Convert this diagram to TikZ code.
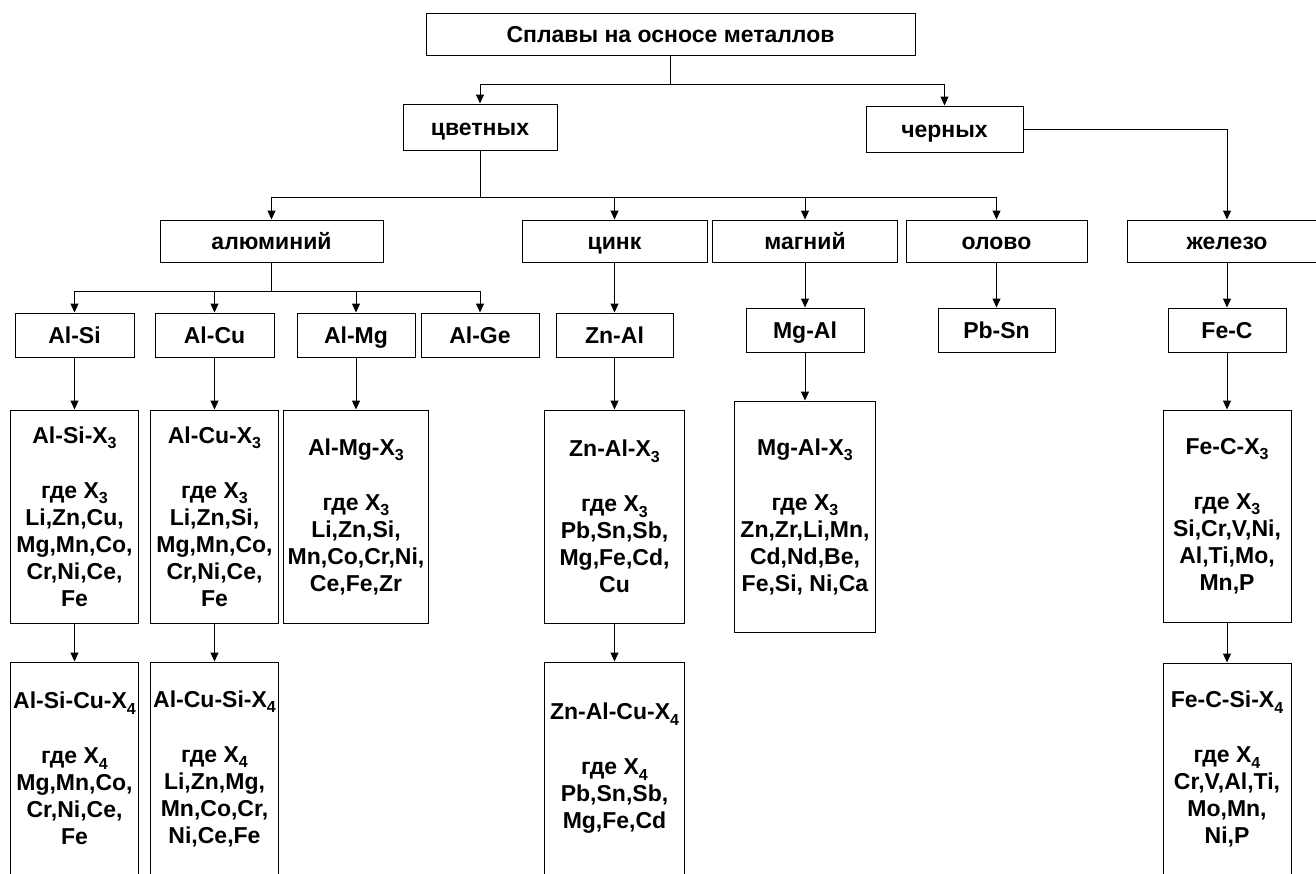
\documentclass[tikz,border=0pt]{standalone}
\usepackage{fontspec}
\setmainfont{Liberation Sans}
\usetikzlibrary{arrows.meta}
\newcommand{\lowidx}[1]{\raisebox{-0.45ex}{\fontsize{8}{8}\selectfont #1}}
\begin{document}
\begin{tikzpicture}[x = 0.5pt, y = -0.5pt,
                tall/.style = {draw, line width = 0.5pt, inner sep = 0pt, align = center,
                               font = \fontsize{11.5}{13.5}\selectfont\bfseries},
                cell/.style = {tall, text height = 8.3pt, text depth = 0pt},
                arr/.style  = {-{Triangle[width = 4pt, length = 4.5pt]}, line width = 0.5pt},
                wire/.style = {line width = 0.5pt}]
                \useasboundingbox (0,0) rectangle (1316,873);
                \clip (0,0) rectangle (1316,873);

                \node [cell, minimum width = 244.5pt, minimum height = 21pt]   (top)   at (670.5,34)  {Сплавы на осносе металлов};

                \node [cell, minimum width = 77pt,    minimum height = 23pt]   (cvet)  at (480,127)   {цветных};
                \node [cell, minimum width = 78.5pt,  minimum height = 23pt]   (chern) at (944.5,129) {черных};

                \node [cell, minimum width = 111.5pt, minimum height = 21pt]   (alum)  at (271.5,241) {алюминий};
                \node [cell, minimum width = 92.5pt,  minimum height = 21pt]   (zinc)  at (614.5,241) {цинк};
                \node [cell, minimum width = 92.5pt,  minimum height = 21pt]   (magn)  at (805,241)   {магний};
                \node [cell, minimum width = 90.5pt,  minimum height = 21pt]   (olovo) at (996.5,241) {олово};
                \node [cell, minimum width = 100pt,   minimum height = 21pt]   (zhel)  at (1227,241)  {железо};

                \node [cell, minimum width = 59.5pt,  minimum height = 22pt]   (alsi)  at (74.5,335)  {Al-Si};
                \node [cell, minimum width = 59.5pt,  minimum height = 22pt]   (alcu)  at (214.5,335) {Al-Cu};
                \node [cell, minimum width = 59pt,    minimum height = 22pt]   (almg)  at (356,335)   {Al-Mg};
                \node [cell, minimum width = 59pt,    minimum height = 22pt]   (alge)  at (480,335)   {Al-Ge};
                \node [cell, minimum width = 58.5pt,  minimum height = 22pt]   (znal)  at (614.5,335) {Zn-Al};
                \node [cell, minimum width = 59pt,    minimum height = 22pt]   (mgal)  at (805,330)   {Mg-Al};
                \node [cell, minimum width = 58.5pt,  minimum height = 22pt]   (pbsn)  at (996.5,330) {Pb-Sn};
                \node [cell, minimum width = 59pt,    minimum height = 22pt]   (fec)   at (1227,330)  {Fe-C};

                \node [tall, minimum width = 64pt,    minimum height = 106.5pt] (alsi3) at (74.5,516.5)
                        {Al-Si-X\lowidx{3}\\[14pt]где X\lowidx{3}\\Li,Zn,Cu,\\Mg,Mn,Co,\\Cr,Ni,Ce,\\Fe};
                \node [tall, minimum width = 64pt,    minimum height = 106.5pt] (alcu3) at (214.5,516.5)
                        {Al-Cu-X\lowidx{3}\\[14pt]где X\lowidx{3}\\Li,Zn,Si,\\Mg,Mn,Co,\\Cr,Ni,Ce,\\Fe};
                \node [tall, minimum width = 72.5pt,  minimum height = 106.5pt] (almg3) at (356,516.5)
                        {Al-Mg-X\lowidx{3}\\[14pt]где X\lowidx{3}\\Li,Zn,Si,\\Mn,Co,Cr,Ni,\\Ce,Fe,Zr};
                \node [tall, minimum width = 70pt,    minimum height = 106.5pt] (znal3) at (614.5,516.5)
                        {Zn-Al-X\lowidx{3}\\[14pt]где X\lowidx{3}\\Pb,Sn,Sb,\\Mg,Fe,Cd,\\Cu};
                \node [tall, minimum width = 70.5pt,  minimum height = 115.5pt] (mgal3) at (805,516.5)
                        {Mg-Al-X\lowidx{3}\\[14pt]где X\lowidx{3}\\Zn,Zr,Li,Mn,\\Cd,Nd,Be,\\Fe,Si, Ni,Ca};
                \node [tall, minimum width = 64pt,    minimum height = 106pt]   (fec3)  at (1227,516)
                        {Fe-C-X\lowidx{3}\\[14pt]где X\lowidx{3}\\Si,Cr,V,Ni,\\Al,Ti,Mo,\\Mn,P};

                \node [tall, minimum width = 64pt,    minimum height = 106.5pt] (alsicu4) at (74.5,768.5)
                        {Al-Si-Cu-X\lowidx{4}\\[14pt]где X\lowidx{4}\\Mg,Mn,Co,\\Cr,Ni,Ce,\\Fe};
                \node [tall, minimum width = 64pt,    minimum height = 106.5pt] (alcusi4) at (214.5,768.5)
                        {Al-Cu-Si-X\lowidx{4}\\[14pt]где X\lowidx{4}\\Li,Zn,Mg,\\Mn,Co,Cr,\\Ni,Ce,Fe};
                \node [tall, minimum width = 70pt,    minimum height = 106.5pt] (znalcu4) at (614.5,768.5)
                        {Zn-Al-Cu-X\lowidx{4}\\[14pt]где X\lowidx{4}\\Pb,Sn,Sb,\\Mg,Fe,Cd};
                \node [tall, minimum width = 64pt,    minimum height = 106pt]   (fecsi4)  at (1227,769)
                        {Fe-C-Si-X\lowidx{4}\\[14pt]где X\lowidx{4}\\Cr,V,Al,Ti,\\Mo,Mn,\\Ni,P};

                \coordinate (jtop) at (670.5,84);
                \coordinate (jcol) at (480,197);
                \coordinate (jal)  at (271.5,291);

                \draw [wire]    (top)   -- (jtop);
                \draw [arr]     (jtop)  -| (cvet);
                \draw [arr]     (jtop)  -| (chern);
                \draw [arr]     (chern) -| (zhel);

                \draw [wire]    (cvet)  -- (jcol);
                \draw [arr]     (jcol)  -| (alum);
                \draw [arr]     (jcol)  -| (zinc);
                \draw [arr]     (jcol)  -| (magn);
                \draw [arr]     (jcol)  -| (olovo);

                \draw [wire]    (alum)  -- (jal);
                \draw [arr]     (jal)   -| (alsi);
                \draw [arr]     (jal)   -| (alcu);
                \draw [arr]     (jal)   -| (almg);
                \draw [arr]     (jal)   -| (alge);

                \draw [arr]     (zinc)  -- (znal);
                \draw [arr]     (magn)  -- (mgal);
                \draw [arr]     (olovo) -- (pbsn);
                \draw [arr]     (zhel)  -- (fec);

                \draw [arr]     (alsi)  -- (alsi3);
                \draw [arr]     (alcu)  -- (alcu3);
                \draw [arr]     (almg)  -- (almg3);
                \draw [arr]     (znal)  -- (znal3);
                \draw [arr]     (mgal)  -- (mgal3);
                \draw [arr]     (fec)   -- (fec3);

                \draw [arr]     (alsi3) -- (alsicu4);
                \draw [arr]     (alcu3) -- (alcusi4);
                \draw [arr]     (znal3) -- (znalcu4);
                \draw [arr]     (fec3)  -- (fecsi4);
            \end{tikzpicture}
\end{document}
